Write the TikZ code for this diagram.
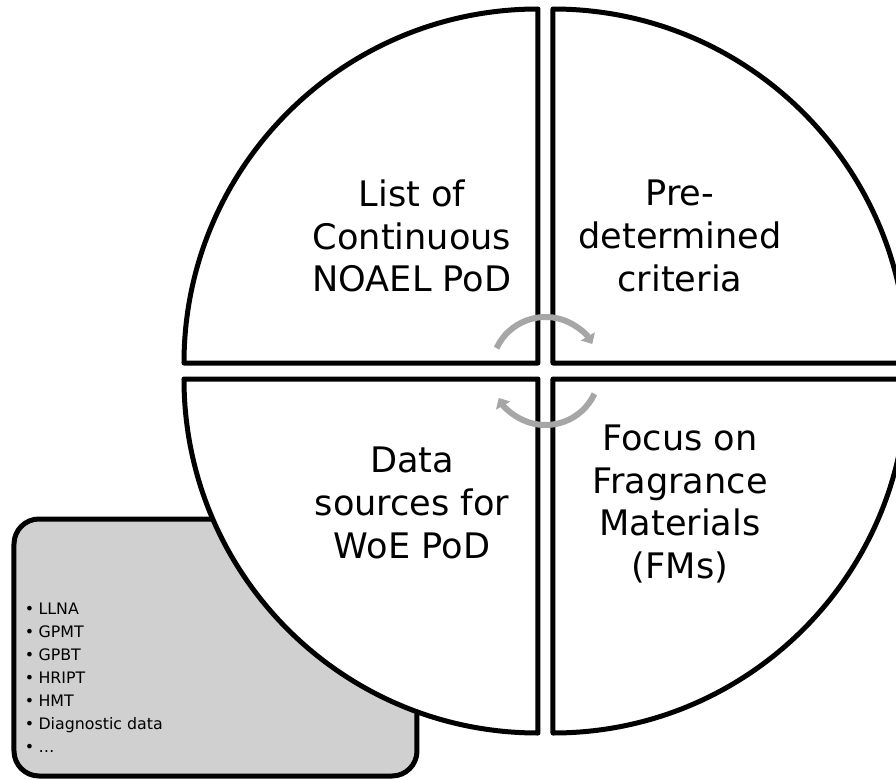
\documentclass[tikz,border=0pt]{standalone}
\usepackage{fontspec}
\setmainfont{DejaVu Sans}
\usetikzlibrary{arrows.meta}
\definecolor{boxgray}{HTML}{D0D0D0}
\definecolor{arrowgray}{HTML}{A6A6A6}
\tikzset{
	quad/.style={draw=black, fill=white, line width=0.1cm, line join=round},
	quadtext/.style={align=center, font=\fontsize{20}{24.4}\selectfont, inner sep=0pt},
	cyclearrow/.style={draw=arrowgray, line width=0.12cm, -{Triangle[length=5pt,width=9pt]}},
	item/.style={anchor=base west, inner sep=0pt, font=\fontsize{9}{11}\selectfont}
}
\begin{document}
\begin{tikzpicture}
		%%%%% START %%%%%
		\useasboundingbox (-10.91, 7.42) rectangle (7.01, -8.16);
		
		% list box behind the circle
		\draw[fill=boxgray, line width=0.1cm, rounded corners=0.5cm] (-10.63, -2.96) rectangle (-2.57, -8.10);
		\foreach \txt [count=\i] in {LLNA, GPMT, GPBT, HRIPT, HMT, Diagnostic data, …}
			\node[item] (item\i) at (-10.42, {-4.86-0.46*(\i-1)}) {\textbullet\hspace{2.5pt}\txt};
		
		% four quarters
		\draw[quad] (-0.15, 0.16) -- ++(-7.08, 0) arc (180:90:7.08) -- cycle;
		\draw[quad] (0.15, 0.16) -- ++(0, 7.08) arc (90:0:7.08) -- cycle;
		\draw[quad] (0.15, -0.16) -- ++(7.08, 0) arc (0:-90:7.08) -- cycle;
		\draw[quad] (-0.15, -0.16) -- ++(0, -7.08) arc (-90:-180:7.08) -- cycle;
		
		\node[quadtext] (noael) at (-2.67, 2.70) {List of\\Continuous\\NOAEL PoD};
		\node[quadtext] (criteria) at (2.69, 2.70) {Pre-\\determined\\criteria};
		\node[quadtext] (sources) at (-2.67, -2.64) {Data\\sources for\\WoE PoD};
		\node[quadtext] (focus) at (2.69, -2.66) {Focus on\\Fragrance\\Materials\\(FMs)};
		
		% cycle arrows
		\draw[cyclearrow] (155:1.08) arc (155:30:1.08);
		\draw[cyclearrow] (-25:1.08) arc (-25:-150:1.08);
		
		%%%%% END %%%%%
	\end{tikzpicture}
\end{document}
